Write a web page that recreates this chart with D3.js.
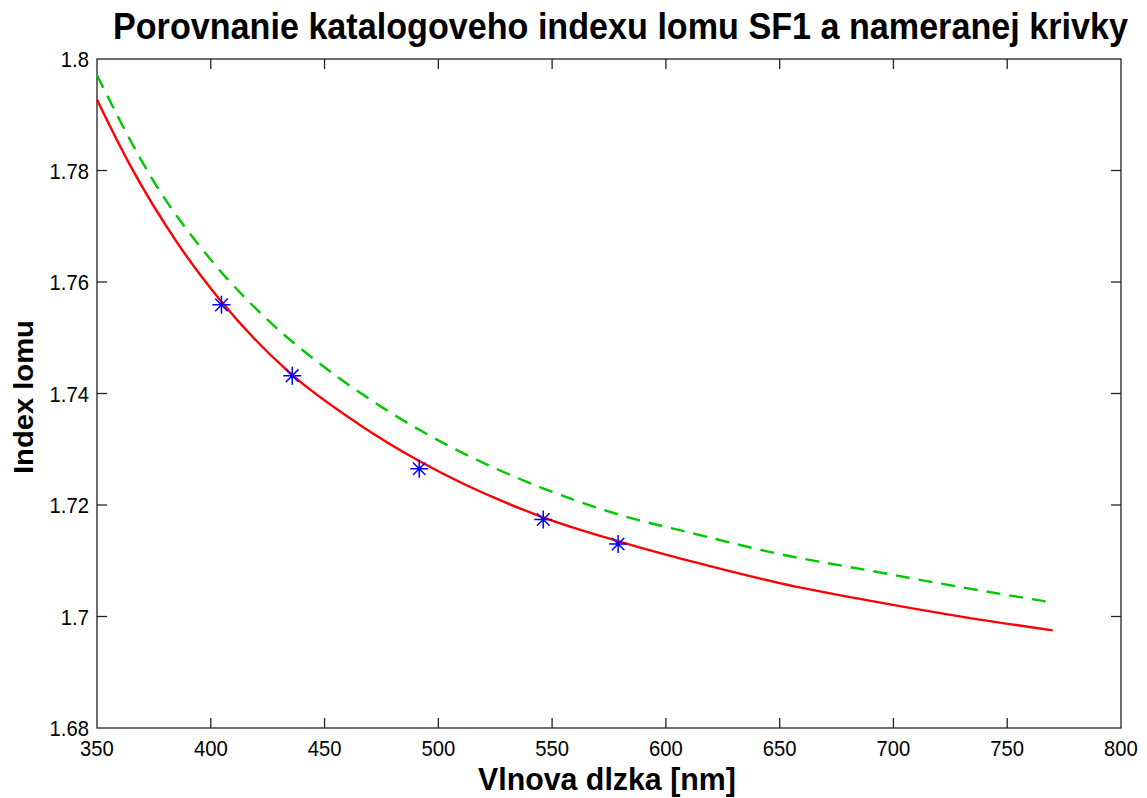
<!DOCTYPE html>
<html>
<head>
<meta charset="utf-8">
<script src="https://cdn.jsdelivr.net/npm/d3@7"></script>
<style>
  html, body { margin: 0; padding: 0; background: #fff; }
  svg { display: block; }
  text { font-family: "Liberation Sans", Arial, sans-serif; fill: #000; }
</style>
</head>
<body>
<svg id="chart" width="1147" height="798"></svg>
<script>
// Catalogue refractive index of SF1 glass (green, dashed)
const catalogWavelength = [350, 375, 400, 425, 450, 475, 506, 546, 580, 613, 650, 690, 725, 770];
const catalogIndex      = [1.7971, 1.7780, 1.7640, 1.7532, 1.7447, 1.7376, 1.7303, 1.7230, 1.7182, 1.7148, 1.7112, 1.7082, 1.7056, 1.7025];

// Fitted curve through the measurement (red, solid)
const fitWavelength = [350, 365, 385, 404, 435, 465, 492, 546, 580, 613, 650, 690, 725, 770];
const fitIndex      = [1.7927, 1.7806, 1.7672, 1.7568, 1.7436, 1.7345, 1.7278, 1.7178, 1.7134, 1.7097, 1.7060, 1.7028, 1.7003, 1.6975];

// Measured points (blue asterisks)
const measuredWavelength = [404.7, 435.8, 491.6, 546.1, 579.0];
const measuredIndex      = [1.7559, 1.7432, 1.7265, 1.7174, 1.7130];

const xTicks = [350, 400, 450, 500, 550, 600, 650, 700, 750, 800];
const yTicks = [1.68, 1.70, 1.72, 1.74, 1.76, 1.78, 1.80];

const titleText = "Porovnanie katalogoveho indexu lomu SF1 a nameranej krivky";
const xLabelText = "Vlnova dlzka [nm]";
const yLabelText = "Index lomu";

const svg = d3.select("#chart");
svg.append("rect").attr("width", 1147).attr("height", 798).attr("fill", "#fff");

const plot = { left: 97, top: 59, right: 1121, bottom: 728 };

const x = d3.scaleLinear().domain([350, 800]).range([plot.left, plot.right]);
const y = d3.scaleLinear().domain([1.68, 1.80]).range([plot.bottom, plot.top]);

const tickLen = 10;
const squeeze = 0.92;

// axes box with inward ticks on every side
const axisColor = "#222";
svg.append("rect")
  .attr("x", plot.left).attr("y", plot.top)
  .attr("width", plot.right - plot.left).attr("height", plot.bottom - plot.top)
  .attr("fill", "none").attr("stroke", axisColor).attr("stroke-width", 1.3);

const tickG = svg.append("g").attr("stroke", axisColor).attr("stroke-width", 1.3);
xTicks.slice(1, -1).forEach(t => {
  tickG.append("line").attr("x1", x(t)).attr("x2", x(t)).attr("y1", plot.bottom).attr("y2", plot.bottom - tickLen);
  tickG.append("line").attr("x1", x(t)).attr("x2", x(t)).attr("y1", plot.top).attr("y2", plot.top + tickLen);
});
yTicks.slice(1, -1).forEach(t => {
  tickG.append("line").attr("x1", plot.left).attr("x2", plot.left + tickLen).attr("y1", y(t)).attr("y2", y(t));
  tickG.append("line").attr("x1", plot.right).attr("x2", plot.right - tickLen).attr("y1", y(t)).attr("y2", y(t));
});

// tick labels
const fmtY = v => (Math.round(v * 100) / 100).toString();
svg.append("g").selectAll("text").data(xTicks).join("text")
  .attr("transform", d => `translate(${x(d)},${plot.bottom + 28}) scale(${squeeze},1)`)
  .attr("text-anchor", "middle")
  .style("font-size", "22px")
  .text(d => d);

svg.append("g").selectAll("text").data(yTicks).join("text")
  .attr("transform", d => `translate(${plot.left - 8},${y(d) + 8}) scale(${squeeze},1)`)
  .attr("text-anchor", "end")
  .style("font-size", "22px")
  .text(fmtY);

// bold text squeezed horizontally to a given width
function squeezedText(parent, str, px, left, baseline, width, rotate) {
  const g = parent.append("g");
  const t = g.append("text")
    .style("font-size", px + "px").style("font-weight", "bold")
    .text(str);
  const natural = t.node().getComputedTextLength();
  const sx = width / natural;
  if (rotate) {
    g.attr("transform", `translate(${left},${baseline}) rotate(-90) scale(${sx},1)`);
  } else {
    g.attr("transform", `translate(${left},${baseline}) scale(${sx},1)`);
  }
  return g;
}

squeezedText(svg, titleText, 36, 113, 39, 1015, false);
squeezedText(svg, xLabelText, 31, 478, 790, 258, false);
squeezedText(svg, yLabelText, 28, 33, 474, 154, true);

// curves
const line = d3.line().x(d => x(d[0])).y(d => y(d[1])).curve(d3.curveMonotoneX);

svg.append("path")
  .datum(d3.zip(catalogWavelength, catalogIndex))
  .attr("d", line)
  .attr("fill", "none").attr("stroke", "#00c800").attr("stroke-width", 2.4)
  .attr("stroke-dasharray", "14,9");

svg.append("path")
  .datum(d3.zip(fitWavelength, fitIndex))
  .attr("d", line)
  .attr("fill", "none").attr("stroke", "#ff0000").attr("stroke-width", 2.4);

// asterisk markers
const r = 9, rd = r * 0.7;
const star = `M${-r},0L${r},0M0,${-r}L0,${r}M${-rd},${-rd}L${rd},${rd}M${-rd},${rd}L${rd},${-rd}`;
svg.append("g").selectAll("path").data(d3.zip(measuredWavelength, measuredIndex)).join("path")
  .attr("transform", d => `translate(${x(d[0])},${y(d[1])})`)
  .attr("d", star)
  .attr("fill", "none").attr("stroke", "#0000ff").attr("stroke-width", 1.5);
</script>
</body>
</html>
